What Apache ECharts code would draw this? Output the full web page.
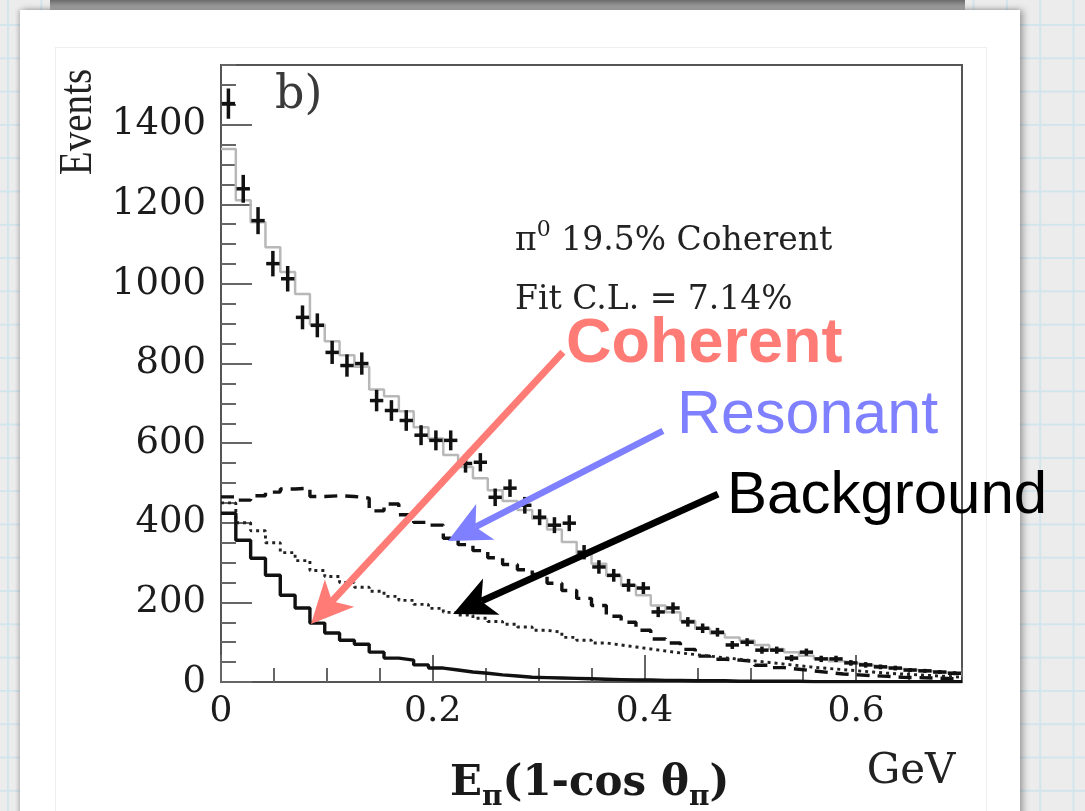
<!DOCTYPE html>
<html><head><meta charset="utf-8">
<script src="https://cdn.jsdelivr.net/npm/echarts@6/dist/echarts.min.js"></script>
<style>
html,body{margin:0;padding:0;width:1085px;height:811px;overflow:hidden;}
body{background-color:#ececec;
 background-image:linear-gradient(#d3e5ec 2px, transparent 2px), linear-gradient(90deg, #d3e5ec 2px, transparent 2px);
 background-size:33.3px 33.3px; background-position:7px 24px;}
#topshade{position:absolute;left:50px;top:0;width:915px;height:12px;background:linear-gradient(#6a6a6a,#cfcfcf);}
#panel{position:absolute;left:20px;top:10px;width:1000px;height:830px;background:#fff;box-shadow:3px 0 7px rgba(0,0,0,0.35),-2px 0 4px rgba(0,0,0,0.15);}
#inner{position:absolute;left:55px;top:47px;width:930px;height:790px;border:1px solid #eeeeee;}
#chart{position:absolute;left:0;top:0;width:1085px;height:811px;}
</style></head>
<body>
<div id="topshade"></div>
<div id="panel"></div>
<div id="inner"></div>
<div id="chart"></div>
<script>
// ---- data ----
const BIN_WIDTH = 0.014;           // GeV per bin, 50 bins from 0 to 0.7
const X_MAX = 0.7;
const Y_MAX = 1550;

const dataCounts = [1453,1239,1159,1051,1013,916,896,828,795,800,
                    707,682,657,620,607,607,549,552,464,487,
                    444,414,394,399,326,289,268,243,236,176,
                    186,151,135,125,93,100,80,80,60,75,
                    58,58,48,43,38,35,30,28,25,22];
const dataErrors = [38,35,34,32,32,30,30,29,28,28,
                    27,26,26,25,25,25,23,23,22,22,
                    21,20,20,20,18,17,16,16,15,13,
                    14,12,12,11,10,10,9,9,8,9,
                    8,8,7,7,6,6,5,5,5,5];
const fitTotal   = [1339,1210,1155,1092,1030,975,898,856,821,792,
                    735,718,680,640,612,570,540,512,482,455,
                    432,410,383,352,323,297,266,243,218,192,
                    175,154,134,121,112,104,93,83,75,66,
                    59,52,47,42,37,33,30,27,24,21];
const coherent   = [424,356,311,268,218,186,148,123,105,95,
                    75,60,55,43,35,30,25,22,18,15,
                    12,11,10,9,8,7,6,5,5,4,
                    4,3,3,3,2,2,2,2,2,1,
                    1,1,1,1,1,1,1,1,1,1];
const resonant   = [465,457,468,477,485,487,466,468,466,462,
                    430,447,420,401,394,361,345,330,312,295,
                    282,270,248,230,210,192,165,150,130,108,
                    98,82,65,57,55,52,42,36,32,28,
                    24,20,18,16,14,12,11,10,9,8];
const background = [450,400,380,350,325,305,280,265,250,238,
                    228,215,205,195,185,175,168,160,152,145,
                    138,130,125,112,105,98,93,88,83,78,
                    73,69,65,61,57,53,49,45,41,37,
                    34,31,28,25,22,20,18,16,14,12];

// annotation arrows: start (near label) and tip, in data coordinates
const arrowStartX = [0.323, 0.4175, 0.4695];
const arrowStartY = [829, 631, 472];
const arrowTipX   = [0.085, 0.2144, 0.2192];
const arrowTipY   = [146, 354, 171];
const arrowColors = ['#ff7b76', '#7f80ff', '#000000'];

// ---- helpers ----
function stepData(vals){
  const pts = vals.map((v,i)=>[+(i*BIN_WIDTH).toFixed(4), v]);
  pts.push([X_MAX, vals[vals.length-1]]);
  return pts;
}
const SERIF = '"DejaVu Serif", "Liberation Serif", serif';
const measureCtx = document.createElement('canvas').getContext('2d');
function textWidth(t, font){ measureCtx.font = font; return measureCtx.measureText(t).width; }
function textRun(pieces, x0, yMid, color){
  let x = x0; const out = [];
  pieces.forEach(p=>{
    const font = (p.bold?'bold ':'') + p.size + 'px ' + (p.family||SERIF);
    out.push({type:'text', x:x, y:yMid + (p.dy||0), silent:true,
      style:{text:p.t, font:font, fill:color, align:'left', verticalAlign:'middle'}});
    x += textWidth(p.t, font);
  });
  return out;
}

const chart = echarts.init(document.getElementById('chart'), null, {renderer:'canvas'});

const dataSeries = {
  type:'custom', name:'Data', xAxisIndex:0, yAxisIndex:0, z:6, clip:true,
  data: dataCounts.map((v,i)=>[(i+0.5)*BIN_WIDTH, v, dataErrors[i]]),
  renderItem(params, api){
    const x = api.value(0), y = api.value(1), e = api.value(2);
    const t = api.coord([x, y+e]), b = api.coord([x, y-e]);
    const l = api.coord([x-BIN_WIDTH*0.45, y]), r = api.coord([x+BIN_WIDTH*0.45, y]);
    const st = {stroke:'#111', lineWidth:3.5};
    return {type:'group', children:[
      {type:'line', shape:{x1:t[0],y1:t[1],x2:b[0],y2:b[1]}, style:st},
      {type:'line', shape:{x1:l[0],y1:l[1],x2:r[0],y2:r[1]}, style:st}
    ]};
  }
};

const arrowSeries = {
  type:'custom', name:'Arrows', xAxisIndex:0, yAxisIndex:0, z:10, clip:false, silent:true,
  data: arrowStartX.map((x,i)=>[x, arrowStartY[i], arrowTipX[i], arrowTipY[i], i]),
  renderItem(params, api){
    const s = api.coord([api.value(0), api.value(1)]);
    const t = api.coord([api.value(2), api.value(3)]);
    const color = arrowColors[api.value(4)];
    const w = api.value(4) === 1 ? 6.5 : 7;
    const dx = t[0]-s[0], dy = t[1]-s[1];
    const L = Math.hypot(dx, dy), ux = dx/L, uy = dy/L, px = -uy, py = ux;
    const headLen = 42, headHalf = 20, notch = 11;
    const base = [t[0]-ux*headLen, t[1]-uy*headLen];
    const inner = [t[0]-ux*(headLen-notch), t[1]-uy*(headLen-notch)];
    return {type:'group', children:[
      {type:'line', shape:{x1:s[0],y1:s[1],x2:inner[0],y2:inner[1]},
       style:{stroke:color, lineWidth:w, lineCap:'butt'}},
      {type:'polygon', shape:{points:[
         t, [base[0]+px*headHalf, base[1]+py*headHalf], inner,
         [base[0]-px*headHalf, base[1]-py*headHalf]]},
       style:{fill:color}}
    ]};
  }
};

function histSeries(name, vals, color, width, dash, z){
  return {type:'line', name:name, step:'end', data:stepData(vals), showSymbol:false, symbol:'none',
    xAxisIndex:0, yAxisIndex:0, clip:true, z:z, animation:false, silent:true,
    lineStyle:{color:color, width:width, type: dash || 'solid', cap:'butt'}};
}

const graphics = [
  {type:'text', x:275, y:96, silent:true,
   style:{text:'b)', font:'46px '+SERIF, fill:'#3a3a3a', align:'left', verticalAlign:'middle'}},
  {type:'text', x:79, y:122, rotation:Math.PI/2, scaleX:0.85, silent:true,
   style:{text:'Events', font:'46px "Liberation Serif", serif', fill:'#222', align:'center', verticalAlign:'middle'}},
  {type:'text', x:911, y:772, silent:true,
   style:{text:'GeV', font:'42px '+SERIF, fill:'#222', align:'center', verticalAlign:'middle'}},
  {type:'text', x:515, y:300, silent:true,
   style:{text:'Fit C.L. = 7.14%', font:'33px '+SERIF, fill:'#222', align:'left', verticalAlign:'middle'}},
  {type:'text', x:566, y:345, silent:true,
   style:{text:'Coherent', font:'bold 63px Arial, "Liberation Sans", sans-serif', fill:'#ff7b76', align:'left', verticalAlign:'middle'}},
  {type:'text', x:677, y:416, silent:true,
   style:{text:'Resonant', font:'61px Arial, "Liberation Sans", sans-serif', fill:'#7f80ff', align:'left', verticalAlign:'middle'}},
  {type:'text', x:727, y:496, silent:true,
   style:{text:'Background', font:'60px Arial, "Liberation Sans", sans-serif', fill:'#000', align:'left', verticalAlign:'middle'}}
].concat(
  textRun([{t:'π',size:33},{t:'0',size:22,dy:-11},{t:' 19.5% Coherent',size:33}], 515, 241, '#222'),
  textRun([{t:'E',size:42,bold:true},{t:'π',size:28,bold:true,dy:14},{t:'(1-cos θ',size:42,bold:true},{t:'π',size:28,bold:true,dy:14},{t:')',size:42,bold:true}], 450, 784, '#1a1a1a')
);

const axisLabelCommon = {fontFamily:SERIF, color:'#1c1c1c'};

chart.setOption({
  backgroundColor:'transparent',
  animation:false,
  grid:{left:221, right:123, top:65, bottom:129, show:true, borderColor:'#555', borderWidth:2, backgroundColor:'transparent'},
  xAxis:[
    {type:'value', min:0, max:X_MAX, interval:0.2, position:'bottom',
     axisLine:{show:false}, splitLine:{show:false},
     axisTick:{show:true, inside:true, length:27, lineStyle:{color:'#666', width:2}},
     axisLabel:Object.assign({fontSize:36, margin:12, showMaxLabel:false,
       formatter:v=>String(+(+v).toFixed(1))}, axisLabelCommon)},
    {type:'value', min:0, max:X_MAX, interval:0.05, position:'bottom',
     axisLine:{show:false}, splitLine:{show:false}, axisLabel:{show:false},
     axisTick:{show:true, inside:true, length:14, lineStyle:{color:'#666', width:2}}}
  ],
  yAxis:[
    {type:'value', min:0, max:Y_MAX, interval:200, position:'left',
     axisLine:{show:false}, splitLine:{show:false},
     axisTick:{show:true, inside:true, length:31, lineStyle:{color:'#666', width:2}},
     axisLabel:Object.assign({fontSize:37, margin:15, showMaxLabel:false,
       formatter:v=>String(Math.round(v))}, axisLabelCommon)},
    {type:'value', min:0, max:Y_MAX, interval:50, position:'left',
     axisLine:{show:false}, splitLine:{show:false}, axisLabel:{show:false},
     axisTick:{show:true, inside:true, length:15, lineStyle:{color:'#666', width:2}}}
  ],
  series:[
    histSeries('Fit', fitTotal, '#b8b8b8', 2.5, null, 2),
    histSeries('Resonant', resonant, '#111', 3.4, [13,8], 3),
    histSeries('Background', background, '#222', 2.9, [3,4], 3),
    histSeries('Coherent', coherent, '#111', 3.4, null, 4),
    dataSeries,
    arrowSeries
  ],
  graphic:graphics
});
</script>
</body></html>
